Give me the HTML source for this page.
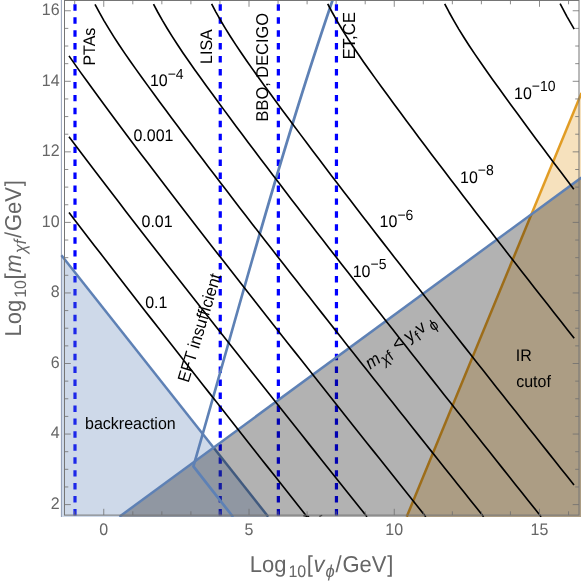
<!DOCTYPE html>
<html><head><meta charset="utf-8"><title>plot</title>
<style>
html,body{margin:0;padding:0;background:#fff;}
body{width:581px;height:586px;overflow:hidden;font-family:"Liberation Sans",sans-serif;}
svg{display:block;will-change:transform;opacity:0.999;}
text{font-family:"Liberation Sans",sans-serif;text-rendering:geometricPrecision;}
</style></head><body>
<svg width="581" height="586" viewBox="0 0 581 586">
<rect x="0" y="0" width="581" height="586" fill="#fff"/>

<g stroke="#0000ff" stroke-width="3.2" stroke-dasharray="6.45 6.49" fill="none">
<line x1="75.00" y1="4.3" x2="75.00" y2="516.7"/>
<line x1="220.25" y1="4.3" x2="220.25" y2="516.7"/>
<line x1="278.35" y1="4.3" x2="278.35" y2="516.7"/>
<line x1="336.45" y1="4.3" x2="336.45" y2="516.7"/>
</g>
<polygon points="61.40,255.30 268.00,517.00 61.40,517.00" fill="rgba(94,129,181,0.3)"/>
<line x1="61.4" y1="255.3" x2="268.2" y2="516.7" stroke="rgb(94,129,181)" stroke-width="2.5"/>
<line x1="61.4" y1="0" x2="61.4" y2="517.0" stroke="rgba(105,122,155,0.7)" stroke-width="1.0"/>
<polygon points="406.80,517.00 581.50,92.90 581.50,517.00" fill="rgba(225,156,36,0.3)"/>
<line x1="406.7" y1="516.7" x2="581.5" y2="92.9" stroke="rgb(225,156,36)" stroke-width="2.5"/>
<polygon points="119.80,517.00 581.50,177.50 581.50,517.00" fill="rgba(0,0,0,0.3)"/>
<line x1="119.4" y1="516.7" x2="581.5" y2="177.5" stroke="rgb(94,129,181)" stroke-width="2.5"/>
<polyline points="333.30,-2.00 329.22,10.00 325.18,22.00 321.19,34.00 317.24,46.00 313.33,58.00 309.45,70.00 305.62,82.00 301.83,94.00 298.06,106.00 294.34,118.00 290.64,130.00 286.97,142.00 283.33,154.00 279.72,166.00 276.13,178.00 272.57,190.00 269.03,202.00 265.51,214.00 262.01,226.00 258.52,238.00 255.05,250.00 251.60,262.00 248.16,274.00 244.73,286.00 241.30,298.00 237.89,310.00 234.48,322.00 231.08,334.00 227.68,346.00 224.28,358.00 220.88,370.00 217.48,382.00 214.08,394.00 210.67,406.00 207.26,418.00 203.83,430.00 200.40,442.00 196.96,454.00 193.42,466.30 233.10,517.00" fill="none" stroke="rgb(94,129,181)" stroke-width="2.7" stroke-linejoin="round"/>
<g stroke="#000" stroke-width="1.65" fill="none" stroke-linejoin="round">
<polyline points="69.00,212.50 75.29,220.72 81.60,228.94 87.93,237.16 94.27,245.39 100.61,253.61 106.97,261.83 113.33,270.05 119.70,278.27 126.08,286.49 132.47,294.72 138.87,302.94 145.27,311.16 151.69,319.38 158.11,327.60 164.53,335.82 170.96,344.05 177.40,352.27 183.84,360.49 190.28,368.71 196.73,376.93 203.19,385.15 209.65,393.38 216.11,401.60 222.58,409.82 229.05,418.04 235.53,426.26 242.01,434.48 248.49,442.71 254.98,450.93 261.47,459.15 267.96,467.37 274.46,475.59 280.96,483.81 287.47,492.04 293.97,500.26 300.49,508.48 307.00,516.70"/>
<polyline points="69.00,136.80 75.21,145.06 81.45,153.32 87.71,161.58 93.99,169.83 100.29,178.09 106.62,186.35 112.95,194.61 119.31,202.87 125.68,211.13 132.06,219.39 138.46,227.65 144.87,235.90 151.29,244.16 157.73,252.42 164.17,260.68 170.62,268.94 177.09,277.20 183.55,285.46 190.03,293.72 196.52,301.97 203.01,310.23 209.52,318.49 216.03,326.75 222.54,335.01 229.06,343.27 235.59,351.53 242.12,359.78 248.65,368.04 255.19,376.30 261.74,384.56 268.29,392.82 274.84,401.08 281.40,409.34 287.96,417.60 294.53,425.85 301.10,434.11 307.68,442.37 314.25,450.63 320.83,458.89 327.42,467.15 334.01,475.41 340.60,483.67 347.19,491.92 353.79,500.18 360.39,508.44 367.00,516.70"/>
<polyline points="69.00,55.90 74.75,64.13 80.59,72.36 86.51,80.59 92.50,88.81 98.52,97.04 104.58,105.27 110.67,113.50 116.79,121.73 122.93,129.96 129.09,138.19 135.28,146.41 141.50,154.64 147.73,162.87 153.99,171.10 160.26,179.33 166.56,187.56 172.87,195.79 179.20,204.01 185.54,212.24 191.90,220.47 198.27,228.70 204.65,236.93 211.05,245.16 217.46,253.39 223.87,261.61 230.30,269.84 236.73,278.07 243.17,286.30 249.62,294.53 256.08,302.76 262.54,310.99 269.02,319.21 275.50,327.44 281.99,335.67 288.48,343.90 294.98,352.13 301.48,360.36 307.98,368.59 314.49,376.81 321.01,385.04 327.53,393.27 334.05,401.50 340.58,409.73 347.11,417.96 353.65,426.19 360.20,434.41 366.74,442.64 373.29,450.87 379.84,459.10 386.40,467.33 392.96,475.56 399.52,483.79 406.08,492.01 412.65,500.24 419.22,508.47 425.80,516.70"/>
<polyline points="95.00,4.30 99.34,12.43 103.94,20.57 108.79,28.70 113.87,36.83 119.17,44.97 124.64,53.10 130.28,61.23 136.03,69.37 141.86,77.50 147.76,85.63 153.70,93.77 159.69,101.90 165.70,110.03 171.74,118.17 177.80,126.30 183.88,134.43 190.00,142.57 196.13,150.70 202.29,158.83 208.46,166.97 214.66,175.10 220.88,183.23 227.12,191.37 233.36,199.50 239.63,207.63 245.91,215.77 252.20,223.90 258.50,232.03 264.83,240.17 271.16,248.30 277.50,256.43 283.85,264.57 290.20,272.70 296.57,280.83 302.94,288.97 309.32,297.10 315.71,305.23 322.11,313.37 328.52,321.50 334.93,329.63 341.35,337.77 347.77,345.90 354.20,354.03 360.63,362.17 367.06,370.30 373.50,378.43 379.95,386.57 386.40,394.70 392.85,402.83 399.31,410.97 405.77,419.10 412.24,427.23 418.71,435.37 425.19,443.50 431.66,451.63 438.14,459.77 444.63,467.90 451.11,476.03 457.60,484.17 464.10,492.30 470.60,500.43 477.10,508.57 483.60,516.70"/>
<polyline points="153.50,4.10 157.82,12.24 162.40,20.37 167.23,28.51 172.29,36.65 177.57,44.78 183.02,52.92 188.63,61.06 194.36,69.19 200.18,77.33 206.06,85.47 211.99,93.60 217.96,101.74 223.96,109.87 229.98,118.01 236.02,126.15 242.10,134.28 248.19,142.42 254.31,150.56 260.45,158.69 266.61,166.83 272.79,174.97 279.00,183.10 285.22,191.24 291.45,199.38 297.70,207.51 303.96,215.65 310.24,223.79 316.53,231.92 322.84,240.06 329.15,248.20 335.48,256.33 341.81,264.47 348.16,272.60 354.51,280.74 360.86,288.88 367.23,297.01 373.61,305.15 379.99,313.29 386.38,321.42 392.78,329.56 399.18,337.70 405.59,345.83 412.00,353.97 418.41,362.11 424.83,370.24 431.26,378.38 437.69,386.52 444.12,394.65 450.56,402.79 457.00,410.93 463.45,419.06 469.91,427.20 476.36,435.33 482.82,443.47 489.28,451.61 495.75,459.74 502.22,467.88 508.69,476.02 515.16,484.15 521.64,492.29 528.13,500.43 534.61,508.56 541.10,516.70"/>
<polyline points="211.60,3.90 215.92,12.05 220.50,20.21 225.34,28.36 230.40,36.52 235.69,44.67 241.15,52.83 246.78,60.98 252.52,69.13 258.34,77.29 264.24,85.44 270.18,93.60 276.16,101.75 282.17,109.91 288.21,118.06 294.27,126.21 300.35,134.37 306.46,142.52 312.59,150.68 318.74,158.83 324.92,166.98 331.11,175.14 337.33,183.29 343.56,191.45 349.81,199.60 356.07,207.76 362.35,215.91 368.64,224.06 374.94,232.22 381.26,240.37 387.59,248.53 393.93,256.68 400.28,264.84 406.64,272.99 413.00,281.14 419.37,289.30 425.75,297.45 432.14,305.61 438.54,313.76 444.94,321.92 451.35,330.07 457.77,338.22 464.19,346.38 470.61,354.53 477.04,362.69 483.48,370.84 489.92,378.99 496.36,387.15 502.81,395.30 509.26,403.46 515.72,411.61 522.18,419.77 528.64,427.92 535.11,436.07 541.59,444.23 548.06,452.38 554.54,460.54 561.02,468.69 567.51,476.85 574.00,485.00"/>
<polyline points="327.70,3.90 332.14,12.26 336.86,20.62 341.83,28.98 347.06,37.34 352.51,45.70 358.13,54.06 363.93,62.42 369.84,70.78 375.84,79.14 381.91,87.50 388.01,95.86 394.16,104.22 400.34,112.58 406.54,120.94 412.77,129.30 419.02,137.66 425.30,146.02 431.60,154.38 437.93,162.74 444.28,171.10 450.65,179.46 457.04,187.82 463.44,196.18 469.87,204.54 476.30,212.90 482.75,221.26 489.22,229.62 495.70,237.98 502.19,246.34 508.70,254.70 515.21,263.06 521.73,271.42 528.26,279.78 534.80,288.14 541.34,296.50 547.90,304.86 554.46,313.22 561.04,321.58 567.62,329.94 574.20,338.30"/>
<polyline points="444.70,3.80 449.11,12.23 453.81,20.65 458.76,29.08 463.97,37.51 469.41,45.94 475.03,54.36 480.82,62.79 486.72,71.22 492.71,79.65 498.76,88.07 504.86,96.50 511.00,104.93 517.17,113.35 523.36,121.78 529.58,130.21 535.83,138.64 542.10,147.06 548.39,155.49 554.71,163.92 561.05,172.35 567.42,180.77 573.80,189.20"/>
<polyline points="560.10,3.60 566.84,16.35 574.20,29.10"/>
</g>
<path d="M303.3 515.6 L309.2 516.4 M319.4 516.3 L322.2 515.2" stroke="#000" stroke-width="1.1" fill="none"/>
<rect x="0" y="517.0" width="581" height="70" fill="#fff"/>
<g stroke="#6e6e6e" stroke-width="0.8" fill="none">
<line x1="74.70" y1="515.10" x2="74.70" y2="511.30"/>
<line x1="74.70" y1="0.50" x2="74.70" y2="4.30"/>
<line x1="103.75" y1="515.10" x2="103.75" y2="508.80"/>
<line x1="103.75" y1="0.50" x2="103.75" y2="6.80"/>
<line x1="132.80" y1="515.10" x2="132.80" y2="511.30"/>
<line x1="132.80" y1="0.50" x2="132.80" y2="4.30"/>
<line x1="161.85" y1="515.10" x2="161.85" y2="511.30"/>
<line x1="161.85" y1="0.50" x2="161.85" y2="4.30"/>
<line x1="190.90" y1="515.10" x2="190.90" y2="511.30"/>
<line x1="190.90" y1="0.50" x2="190.90" y2="4.30"/>
<line x1="219.95" y1="515.10" x2="219.95" y2="511.30"/>
<line x1="219.95" y1="0.50" x2="219.95" y2="4.30"/>
<line x1="249.00" y1="515.10" x2="249.00" y2="508.80"/>
<line x1="249.00" y1="0.50" x2="249.00" y2="6.80"/>
<line x1="278.05" y1="515.10" x2="278.05" y2="511.30"/>
<line x1="278.05" y1="0.50" x2="278.05" y2="4.30"/>
<line x1="307.10" y1="515.10" x2="307.10" y2="511.30"/>
<line x1="307.10" y1="0.50" x2="307.10" y2="4.30"/>
<line x1="336.15" y1="515.10" x2="336.15" y2="511.30"/>
<line x1="336.15" y1="0.50" x2="336.15" y2="4.30"/>
<line x1="365.20" y1="515.10" x2="365.20" y2="511.30"/>
<line x1="365.20" y1="0.50" x2="365.20" y2="4.30"/>
<line x1="394.25" y1="515.10" x2="394.25" y2="508.80"/>
<line x1="394.25" y1="0.50" x2="394.25" y2="6.80"/>
<line x1="423.30" y1="515.10" x2="423.30" y2="511.30"/>
<line x1="423.30" y1="0.50" x2="423.30" y2="4.30"/>
<line x1="452.35" y1="515.10" x2="452.35" y2="511.30"/>
<line x1="452.35" y1="0.50" x2="452.35" y2="4.30"/>
<line x1="481.40" y1="515.10" x2="481.40" y2="511.30"/>
<line x1="481.40" y1="0.50" x2="481.40" y2="4.30"/>
<line x1="510.45" y1="515.10" x2="510.45" y2="511.30"/>
<line x1="510.45" y1="0.50" x2="510.45" y2="4.30"/>
<line x1="539.50" y1="515.10" x2="539.50" y2="508.80"/>
<line x1="539.50" y1="0.50" x2="539.50" y2="6.80"/>
<line x1="568.55" y1="515.10" x2="568.55" y2="511.30"/>
<line x1="568.55" y1="0.50" x2="568.55" y2="4.30"/>
<line x1="64.50" y1="504.60" x2="70.80" y2="504.60"/>
<line x1="579.00" y1="504.60" x2="572.70" y2="504.60"/>
<line x1="64.50" y1="486.96" x2="68.30" y2="486.96"/>
<line x1="579.00" y1="486.96" x2="575.20" y2="486.96"/>
<line x1="64.50" y1="469.32" x2="68.30" y2="469.32"/>
<line x1="579.00" y1="469.32" x2="575.20" y2="469.32"/>
<line x1="64.50" y1="451.69" x2="68.30" y2="451.69"/>
<line x1="579.00" y1="451.69" x2="575.20" y2="451.69"/>
<line x1="64.50" y1="434.05" x2="70.80" y2="434.05"/>
<line x1="579.00" y1="434.05" x2="572.70" y2="434.05"/>
<line x1="64.50" y1="416.41" x2="68.30" y2="416.41"/>
<line x1="579.00" y1="416.41" x2="575.20" y2="416.41"/>
<line x1="64.50" y1="398.77" x2="68.30" y2="398.77"/>
<line x1="579.00" y1="398.77" x2="575.20" y2="398.77"/>
<line x1="64.50" y1="381.14" x2="68.30" y2="381.14"/>
<line x1="579.00" y1="381.14" x2="575.20" y2="381.14"/>
<line x1="64.50" y1="363.50" x2="70.80" y2="363.50"/>
<line x1="579.00" y1="363.50" x2="572.70" y2="363.50"/>
<line x1="64.50" y1="345.86" x2="68.30" y2="345.86"/>
<line x1="579.00" y1="345.86" x2="575.20" y2="345.86"/>
<line x1="64.50" y1="328.22" x2="68.30" y2="328.22"/>
<line x1="579.00" y1="328.22" x2="575.20" y2="328.22"/>
<line x1="64.50" y1="310.59" x2="68.30" y2="310.59"/>
<line x1="579.00" y1="310.59" x2="575.20" y2="310.59"/>
<line x1="64.50" y1="292.95" x2="70.80" y2="292.95"/>
<line x1="579.00" y1="292.95" x2="572.70" y2="292.95"/>
<line x1="64.50" y1="275.31" x2="68.30" y2="275.31"/>
<line x1="579.00" y1="275.31" x2="575.20" y2="275.31"/>
<line x1="64.50" y1="257.67" x2="68.30" y2="257.67"/>
<line x1="579.00" y1="257.67" x2="575.20" y2="257.67"/>
<line x1="64.50" y1="240.04" x2="68.30" y2="240.04"/>
<line x1="579.00" y1="240.04" x2="575.20" y2="240.04"/>
<line x1="64.50" y1="222.40" x2="70.80" y2="222.40"/>
<line x1="579.00" y1="222.40" x2="572.70" y2="222.40"/>
<line x1="64.50" y1="204.76" x2="68.30" y2="204.76"/>
<line x1="579.00" y1="204.76" x2="575.20" y2="204.76"/>
<line x1="64.50" y1="187.12" x2="68.30" y2="187.12"/>
<line x1="579.00" y1="187.12" x2="575.20" y2="187.12"/>
<line x1="64.50" y1="169.49" x2="68.30" y2="169.49"/>
<line x1="579.00" y1="169.49" x2="575.20" y2="169.49"/>
<line x1="64.50" y1="151.85" x2="70.80" y2="151.85"/>
<line x1="579.00" y1="151.85" x2="572.70" y2="151.85"/>
<line x1="64.50" y1="134.21" x2="68.30" y2="134.21"/>
<line x1="579.00" y1="134.21" x2="575.20" y2="134.21"/>
<line x1="64.50" y1="116.57" x2="68.30" y2="116.57"/>
<line x1="579.00" y1="116.57" x2="575.20" y2="116.57"/>
<line x1="64.50" y1="98.94" x2="68.30" y2="98.94"/>
<line x1="579.00" y1="98.94" x2="575.20" y2="98.94"/>
<line x1="64.50" y1="81.30" x2="70.80" y2="81.30"/>
<line x1="579.00" y1="81.30" x2="572.70" y2="81.30"/>
<line x1="64.50" y1="63.66" x2="68.30" y2="63.66"/>
<line x1="579.00" y1="63.66" x2="575.20" y2="63.66"/>
<line x1="64.50" y1="46.02" x2="68.30" y2="46.02"/>
<line x1="579.00" y1="46.02" x2="575.20" y2="46.02"/>
<line x1="64.50" y1="28.39" x2="68.30" y2="28.39"/>
<line x1="579.00" y1="28.39" x2="575.20" y2="28.39"/>
<line x1="64.50" y1="10.75" x2="70.80" y2="10.75"/>
<line x1="579.00" y1="10.75" x2="572.70" y2="10.75"/>
</g>
<rect x="64.50" y="0.50" width="514.50" height="514.60" fill="none" stroke="#757575" stroke-width="1"/>
<g fill="#666" font-size="16px">
<text transform="translate(59.60,508.80) scale(1,1.045)" text-anchor="end">2</text>
<text transform="translate(59.60,438.25) scale(1,1.045)" text-anchor="end">4</text>
<text transform="translate(59.60,367.70) scale(1,1.045)" text-anchor="end">6</text>
<text transform="translate(59.60,297.15) scale(1,1.045)" text-anchor="end">8</text>
<text transform="translate(59.60,226.60) scale(1,1.045)" text-anchor="end">10</text>
<text transform="translate(59.60,156.05) scale(1,1.045)" text-anchor="end">12</text>
<text transform="translate(59.60,85.50) scale(1,1.045)" text-anchor="end">14</text>
<text transform="translate(59.60,14.95) scale(1,1.045)" text-anchor="end">16</text>
<text transform="translate(103.75,534.90) scale(1,1.045)" text-anchor="middle">0</text>
<text transform="translate(249.00,534.90) scale(1,1.045)" text-anchor="middle">5</text>
<text transform="translate(394.25,534.90) scale(1,1.045)" text-anchor="middle">10</text>
<text transform="translate(539.50,534.90) scale(1,1.045)" text-anchor="middle">15</text>
</g>
<g fill="#666" font-size="22px">
<text transform="translate(249.80,572.00) scale(1,1.045)" >Log<tspan font-size="16px" dy="5.0" dx="1.9">10</tspan><tspan dy="-5.0" dx="0.5">[</tspan><tspan font-style="italic" dx="0.6">v</tspan><tspan font-size="16.5px" font-style="italic" dy="4.5" dx="1.1">&#981;</tspan><tspan dy="-4.5" dx="0.85">/</tspan><tspan dx="0.8">GeV</tspan><tspan dx="0.8">]</tspan></text>
<text transform="translate(20.90,336.40) rotate(-90) scale(1,1.045)" >Log<tspan font-size="16px" dy="5.0" dx="1.9">10</tspan><tspan dy="-5.0" dx="0.5">[</tspan><tspan font-style="italic" dx="0.6">m</tspan><tspan font-size="16.5px" font-style="italic" dy="4.5" dx="1.1">&#967;f</tspan><tspan dy="-4.5" dx="1.8">/</tspan><tspan dx="0.8">GeV</tspan><tspan dx="0.8">]</tspan></text>
</g>
<g fill="#000" font-size="16px">
<text transform="translate(94.80,65.60) rotate(-90) scale(1,1.045)" >PTAs</text>
<text transform="translate(211.50,63.90) rotate(-90) scale(1,1.045)" >LISA</text>
<text transform="translate(268.20,121.40) rotate(-90) scale(1,1.045)" font-size="16.4px">BBO, DECIGO</text>
<text transform="translate(355.40,59.60) rotate(-90) scale(1,1.045)" font-size="16.8px">ET,CE</text>
<text transform="translate(149.90,86.30) scale(1,1.045)" >10<tspan font-size="14px" dy="-7.0">&#8722;4</tspan></text>
<text transform="translate(133.40,140.60) scale(1,1.045)" >0.001</text>
<text transform="translate(141.50,227.40) scale(1,1.045)" >0.01</text>
<text transform="translate(145.20,307.60) scale(1,1.045)" >0.1</text>
<text transform="translate(352.70,276.70) scale(1,1.045)" >10<tspan font-size="14px" dy="-7.0">&#8722;5</tspan></text>
<text transform="translate(379.60,227.40) scale(1,1.045)" >10<tspan font-size="14px" dy="-7.0">&#8722;6</tspan></text>
<text transform="translate(460.00,182.80) scale(1,1.045)" >10<tspan font-size="14px" dy="-7.0">&#8722;8</tspan></text>
<text transform="translate(514.00,98.80) scale(1,1.045)" >10<tspan font-size="14px" dy="-7.0">&#8722;10</tspan></text>
<text transform="translate(85.00,428.50) scale(1,1.045)" >backreaction</text>
<text transform="translate(188.40,383.20) rotate(-73) scale(1,1.045)" font-size="16.4px">EFT insufficient</text>
<text transform="translate(370.20,369.80) rotate(-35) scale(1,1.045)" font-size="17px"><tspan font-style="italic">m</tspan><tspan font-size="14.5px" dy="4.5" font-style="italic" dx="0.3">&#967;</tspan><tspan font-size="14.5px">f</tspan><tspan dy="-4.5" dx="1.5"> &lt; y</tspan><tspan font-size="14px" dy="4.5" dx="0.5">f</tspan><tspan dy="-4.5" dx="0.8">v</tspan><tspan font-size="14.5px" dy="4.5" dx="4">&#981;</tspan></text>
<text transform="translate(515.70,361.20) scale(1,1.045)" >IR</text>
<text transform="translate(516.20,387.20) scale(1,1.045)" >cutof</text>
</g>
</svg></body></html>
